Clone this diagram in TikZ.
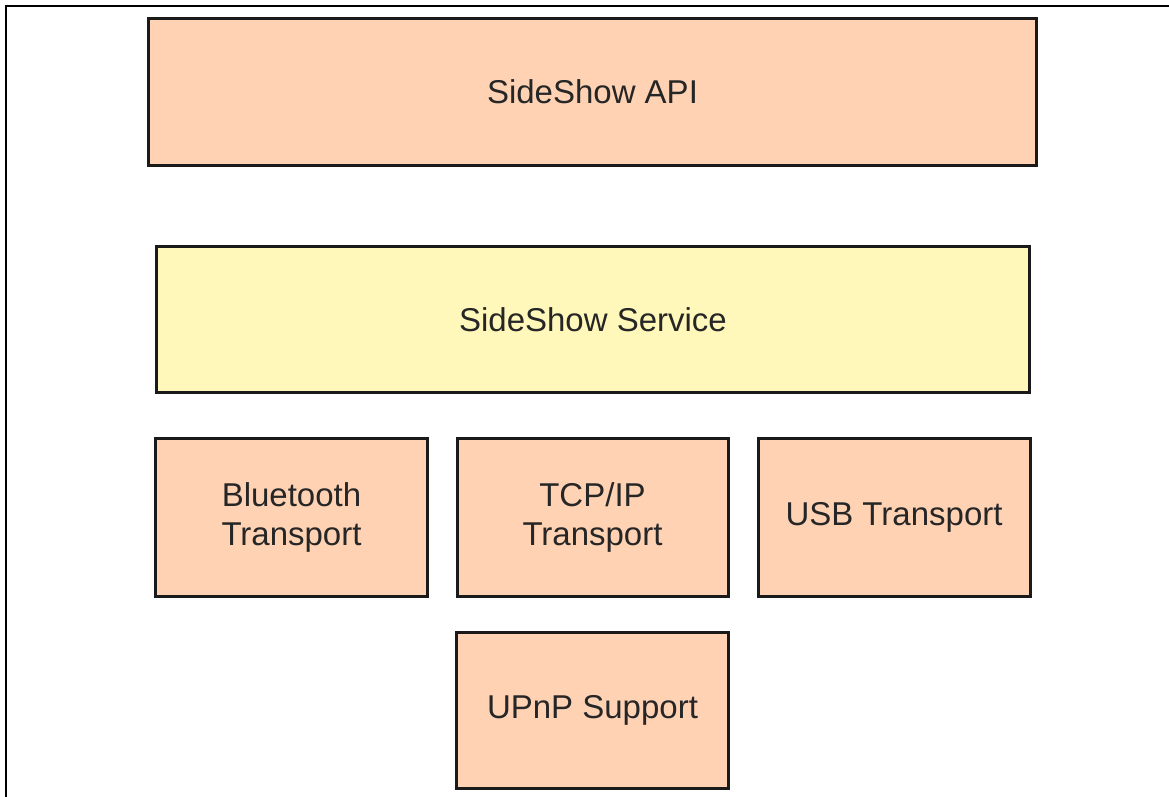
\documentclass[tikz,border=0pt]{standalone}
\usepackage{fontspec}
\setmainfont{Liberation Sans}
\definecolor{peach}{HTML}{FFD2B4}
\definecolor{paleyellow}{HTML}{FFF8BA}
\definecolor{edge}{HTML}{1A1A1A}
\begin{document}
\begin{tikzpicture}[x=1pt,y=-1pt,
  blk/.style={draw=edge, line width=3pt, fill=peach, inner sep=0pt, align=center,
    font=\fontsize{33}{39}\selectfont, text=black!85},
  svc/.style={blk, fill=paleyellow}]
\useasboundingbox (0,0) rectangle (1169,797);
% outer frame (top and left only)
\draw[line width=2pt] (6,797) -- (6,6) -- (1169,6);
% boxes
\node[blk, minimum width=888pt, minimum height=147pt] (api) at (592.5,92) {SideShow API};
\node[svc, minimum width=873pt, minimum height=146pt] (svc) at (593,319.5) {SideShow Service};
\node[blk, minimum width=272pt, minimum height=158pt] (bt) at (291.5,517.5) {Bluetooth\\Transport};
\node[blk, minimum width=271pt, minimum height=158pt] (tcp) at (592.5,517.5) {TCP/IP\\Transport};
\node[blk, minimum width=272pt, minimum height=158pt] (usb) at (894,517.5) {USB Transport};
\node[blk, minimum width=272pt, minimum height=156pt] (upnp) at (592.5,710.5) {UPnP Support};
\end{tikzpicture}
\end{document}
